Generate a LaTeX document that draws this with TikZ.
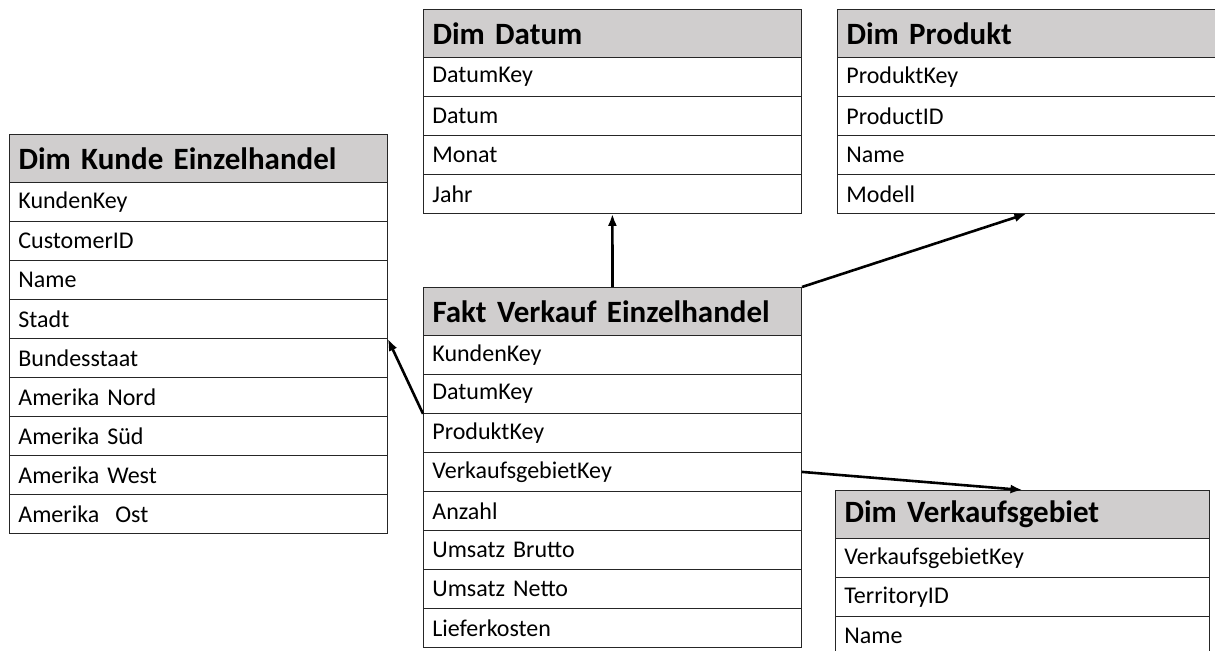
\documentclass[tikz,border=0pt]{standalone}
\usepackage{fontspec}
\setmainfont{Carlito}
\usetikzlibrary{arrows.meta}
\definecolor{headgray}{RGB}{208,206,206}
\tikzset{
  tblhead/.style={draw=black!85,line width=1bp,fill=headgray,anchor=north west,minimum height=48bp,text width=360bp,inner xsep=9bp,align=left,font=\fontsize{31bp}{35bp}\selectfont\bfseries},
  tblrow/.style={draw=black!85,line width=0.8bp,anchor=north west,minimum height=39bp,text width=360bp,inner xsep=9bp,align=left,font=\fontsize{24bp}{28bp}\selectfont},
  link/.style={->,line width=2.6bp,line cap=butt},
}
\begin{document}
\begin{tikzpicture}[>={Latex[length=12bp,width=9bp]},line join=miter,]
        \useasboundingbox (0bp,0bp) rectangle (1215bp,651bp);
        %% Dim Kunde Einzelhandel
        \node (kunde_head) at (9bp,517bp) [tblhead] {Dim Kunde Einzelhandel};
          \node (kunde_1) at (9bp,469bp) [tblrow] {KundenKey};
          \node (kunde_2) at (9bp,430bp) [tblrow] {CustomerID};
          \node (kunde_3) at (9bp,391bp) [tblrow] {Name};
          \node (kunde_4) at (9bp,352bp) [tblrow] {Stadt};
          \node (kunde_5) at (9bp,313bp) [tblrow] {Bundesstaat};
          \node (kunde_6) at (9bp,274bp) [tblrow] {Amerika Nord};
          \node (kunde_7) at (9bp,235bp) [tblrow] {Amerika Süd};
          \node (kunde_8) at (9bp,196bp) [tblrow] {Amerika West};
          \node (kunde_9) at (9bp,157bp) [tblrow] {Amerika\ \ Ost};
        %% Dim Datum
        \node (datum_head) at (423bp,642bp) [tblhead] {Dim Datum};
          \node (datum_1) at (423bp,594bp) [tblrow] {DatumKey};
          \node (datum_2) at (423bp,555bp) [tblrow] {Datum};
          \node (datum_3) at (423bp,516bp) [tblrow] {Monat};
          \node (datum_4) at (423bp,477bp) [tblrow] {Jahr};
        %% Dim Produkt
        \node (produkt_head) at (837bp,642bp) [tblhead] {Dim Produkt};
          \node (produkt_1) at (837bp,594bp) [tblrow] {ProduktKey};
          \node (produkt_2) at (837bp,555bp) [tblrow] {ProductID};
          \node (produkt_3) at (837bp,516bp) [tblrow] {Name};
          \node (produkt_4) at (837bp,477bp) [tblrow] {Modell};
        %% Fakt Verkauf Einzelhandel
        \node (fakt_head) at (423bp,364bp) [tblhead] {Fakt Verkauf Einzelhandel};
          \node (fakt_1) at (423bp,316bp) [tblrow] {KundenKey};
          \node (fakt_2) at (423bp,277bp) [tblrow] {DatumKey};
          \node (fakt_3) at (423bp,238bp) [tblrow] {ProduktKey};
          \node (fakt_4) at (423bp,199bp) [tblrow] {VerkaufsgebietKey};
          \node (fakt_5) at (423bp,160bp) [tblrow] {Anzahl};
          \node (fakt_6) at (423bp,121bp) [tblrow] {Umsatz Brutto};
          \node (fakt_7) at (423bp,82bp) [tblrow] {Umsatz Netto};
          \node (fakt_8) at (423bp,43bp) [tblrow] {Lieferkosten};
        %% Dim Verkaufsgebiet
        \node (gebiet_head) at (835bp,161bp) [tblhead,text width=356bp] {Dim Verkaufsgebiet};
          \node (gebiet_1) at (835bp,113bp) [tblrow,text width=356bp] {VerkaufsgebietKey};
          \node (gebiet_2) at (835bp,74bp) [tblrow,text width=356bp] {TerritoryID};
          \node (gebiet_3) at (835bp,35bp) [tblrow,text width=356bp] {Name};
        %% Beziehungen
        \draw [link] (fakt_2.south west) -- (kunde_4.south east);
        \draw [link] (fakt_head.north) -- (datum_4.south);
        \draw [link] (fakt_head.north east) -- (produkt_4.south);
        \draw [link] (fakt_4.east) -- (gebiet_head.north);
        %
        \end{tikzpicture}
\end{document}
